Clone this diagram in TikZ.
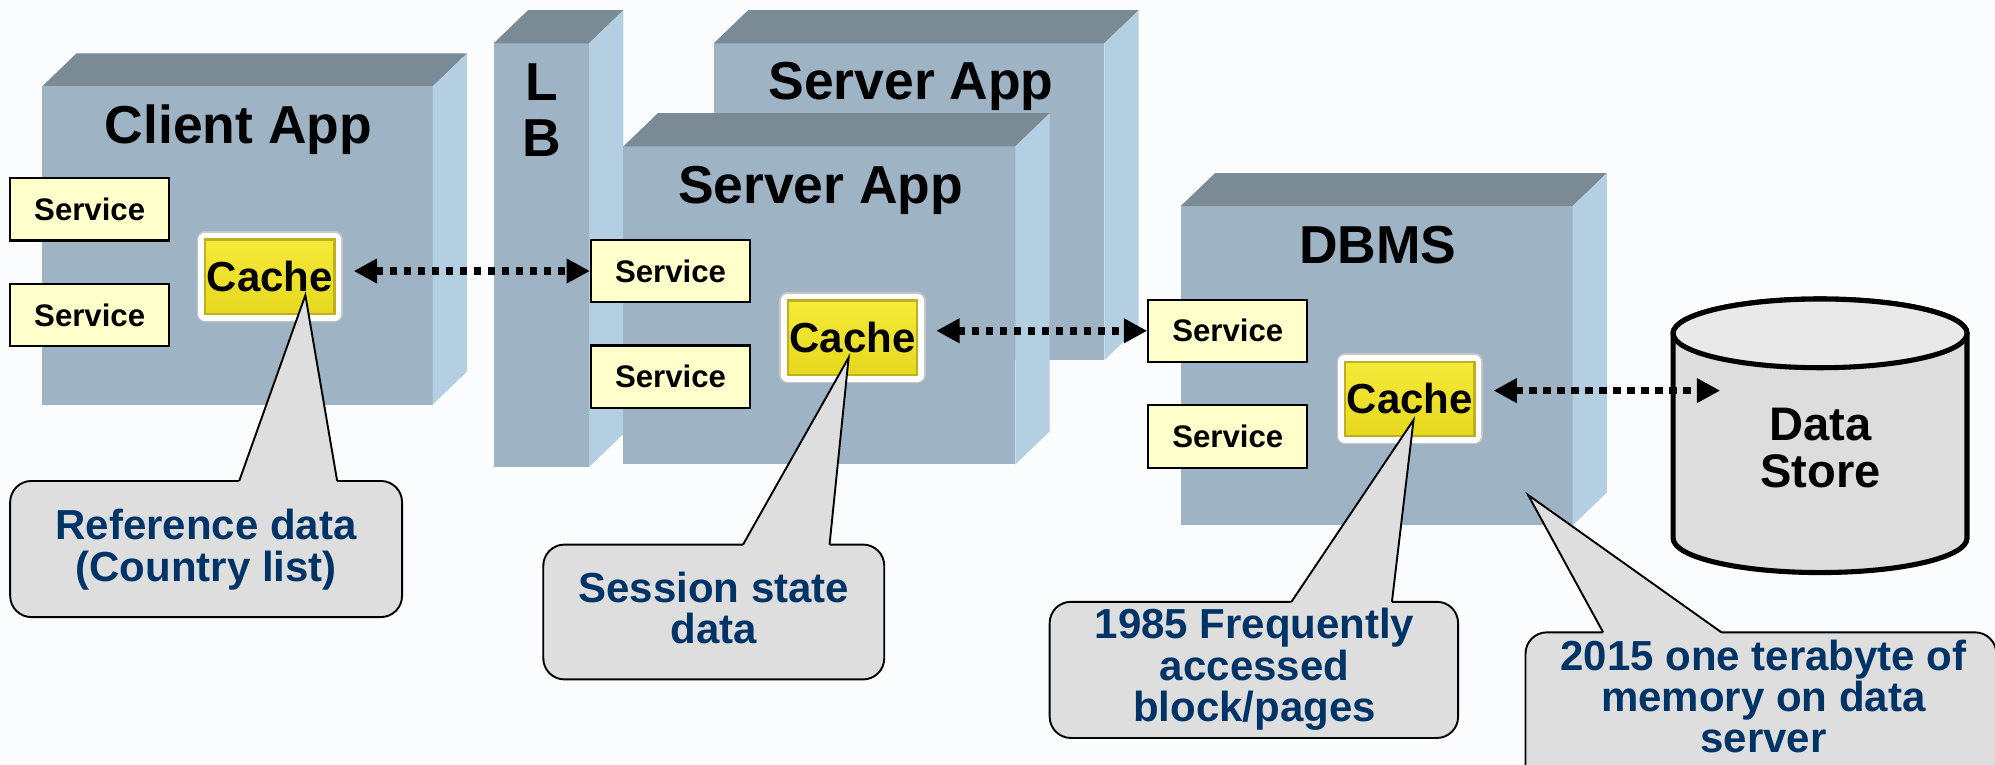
\documentclass[tikz,border=0pt]{standalone}
\usepackage{fontspec}
\setmainfont{Liberation Sans}
\usetikzlibrary{arrows.meta}
\definecolor{bg}{HTML}{FBFCFE}
\definecolor{frontf}{HTML}{9EB3C4}
\definecolor{topf}{HTML}{7B8B96}
\definecolor{sidef}{HTML}{B4CFE1}
\definecolor{svc}{HTML}{FFFFCC}
\definecolor{cacheTop}{HTML}{F6EA3A}
\definecolor{cacheBot}{HTML}{E6D81E}
\definecolor{cacheEdge}{HTML}{BFB020}
\definecolor{callfill}{HTML}{DEDEDE}
\definecolor{navy}{HTML}{003366}
\definecolor{dsbody}{HTML}{DDDDDD}
\definecolor{dstop}{HTML}{E9E9E9}
% 3D block: #1 left, #2 top, #3 right, #4 bottom of front face
\newcommand\drawblock[4]{%
  \fill[frontf] (#1,#2) rectangle (#3,#4);
  \fill[topf] (#1,#2) -- (#1+27,#2-26) -- (#3+27,#2-26) -- (#3,#2) -- cycle;
  \fill[sidef] (#3,#2) -- (#3+27,#2-26) -- (#3+27,#4-26) -- (#3,#4) -- cycle;}
% callout body: #1 l, #2 t, #3 r, #4 b, #5 base left x, #6 base right x, #7 tip
\newcommand\drawcallout[7]{%
  \draw[callout] (#1,#2) rectangle (#3,#4);
  \fill[callfill] (#5,#2+2.5) -- (#5,#2) -- (#7) -- (#6,#2) -- (#6,#2+2.5) -- cycle;
  \draw[line width=0.9pt] (#5,#2) -- (#7) -- (#6,#2);}
\begin{document}
\begin{tikzpicture}[x=0.6pt,y=-0.6pt,
  title/.style={font=\fontsize{25.2pt}{27pt}\selectfont\bfseries, inner sep=0pt, anchor=base},
  svcbox/.style={draw=black, line width=1pt, fill=svc, minimum width=75pt, minimum height=29.4pt,
    inner sep=0pt, font=\fontsize{14.7pt}{16pt}\selectfont\bfseries},
  cachebox/.style={top color=cacheTop, bottom color=cacheBot, draw=cacheEdge, line width=1.2pt,
    minimum width=61pt, minimum height=35pt,
    inner sep=0pt, font=\fontsize{19.8pt}{21pt}\selectfont\bfseries,
    preaction={draw=black!22, line width=8pt, line join=round},
    preaction={draw=white, line width=6.5pt, line join=round}},
  dotarrow/.style={line width=3.5pt, dash pattern=on 3.4pt off 3.2pt,
    {Triangle[length=11pt,width=11pt]}-{Triangle[length=11pt,width=11pt]}},
  callout/.style={fill=callfill, draw=black, line width=0.9pt, rounded corners=10pt},
  calltext/.style={font=\fontsize{19.8pt}{19.5pt}\selectfont\bfseries, text=navy, align=center, inner sep=0pt},
  ds/.style={draw=black, line width=2.4pt},
  dstext/.style={font=\fontsize{22.2pt}{22.2pt}\selectfont\bfseries, align=center, inner sep=0pt}
]
\useasboundingbox (0,0) rectangle (1568,601);
\clip (0,0) rectangle (1568,601);
\fill[bg] (0,0) rectangle (1568,601);

% blocks
\drawblock{33}{68}{340}{318}
\drawblock{388}{34}{463}{367}
\drawblock{561}{34}{868}{283}
\drawblock{490}{115}{798}{365}
\drawblock{928}{162}{1236}{413}

% titles
\node[title] (tClient) at (187.5,112.5) {Client App};
\node[title] (tL) at (426,79) {L};
\node[title] (tB) at (426,123) {B};
\node[title] (tSrvBack) at (716,78.5) {Server App};
\node[title] (tSrv) at (645,160) {Server App};
\node[title] (tDBMS) at (1083,207) {DBMS};

% data store cylinder
\draw[ds, fill=dsbody] (1315,262) -- (1315,423)
  arc[start angle=180, end angle=360, x radius=69.3pt, y radius=16.2pt]
  -- (1546,262)
  arc[start angle=0, end angle=180, x radius=69.3pt, y radius=16.2pt] -- cycle;
\draw[ds, fill=dstop] (1430.5,262) ellipse[x radius=69.3pt, y radius=16.2pt];
\node[dstext] (ds) at (1431,352) {Data\\Store};

% services
\node[svcbox] (svcA1) at (70.5,164.5) {Service};
\node[svcbox] (svcA2) at (70.5,247.5) {Service};
\node[svcbox] (svcB1) at (527,213) {Service};
\node[svcbox] (svcB2) at (527,296) {Service};
\node[svcbox] (svcC1) at (965,260) {Service};
\node[svcbox] (svcC2) at (965,343) {Service};

% caches
\node[cachebox] (cacheA) at (212,217.5) {Cache};
\node[cachebox] (cacheB) at (670,265.5) {Cache};
\node[cachebox] (cacheC) at (1108,313.5) {Cache};

% arrows
\coordinate (dsIn) at (1352,307);
\draw[dotarrow, shorten <=8.5pt] (cacheA.east |- svcB1.west) -- (svcB1.west);
\draw[dotarrow, shorten <=8.4pt] (cacheB.east |- svcC1.west) -- (svcC1.west);
\draw[dotarrow, shorten <=8.4pt] (cacheC.east |- dsIn) -- (dsIn);

% callouts
\coordinate (tipA) at (240,232);
\coordinate (tipB) at (667,281);
\coordinate (tipC) at (1111,330);
\coordinate (tipD) at (1201,389);
\drawcallout{8}{378}{316}{485}{188}{265}{tipA}
\drawcallout{427}{428}{695}{534}{584}{652}{tipB}
\drawcallout{825}{473}{1146}{580}{1015}{1094}{tipC}
\drawcallout{1199}{497}{1569}{618}{1260}{1353}{tipD}
\node[calltext] (cA) at (162,432) {Reference data\\(Country list)};
\node[calltext] (cB) at (561,478) {Session state\\data};
\node[calltext] (cC) at (986,526) {1985 Frequently\\accessed\\block/pages};
\node[calltext] (cD) at (1386,547.5) {2015 one terabyte of\\memory on data\\server};
\end{tikzpicture}
\end{document}
